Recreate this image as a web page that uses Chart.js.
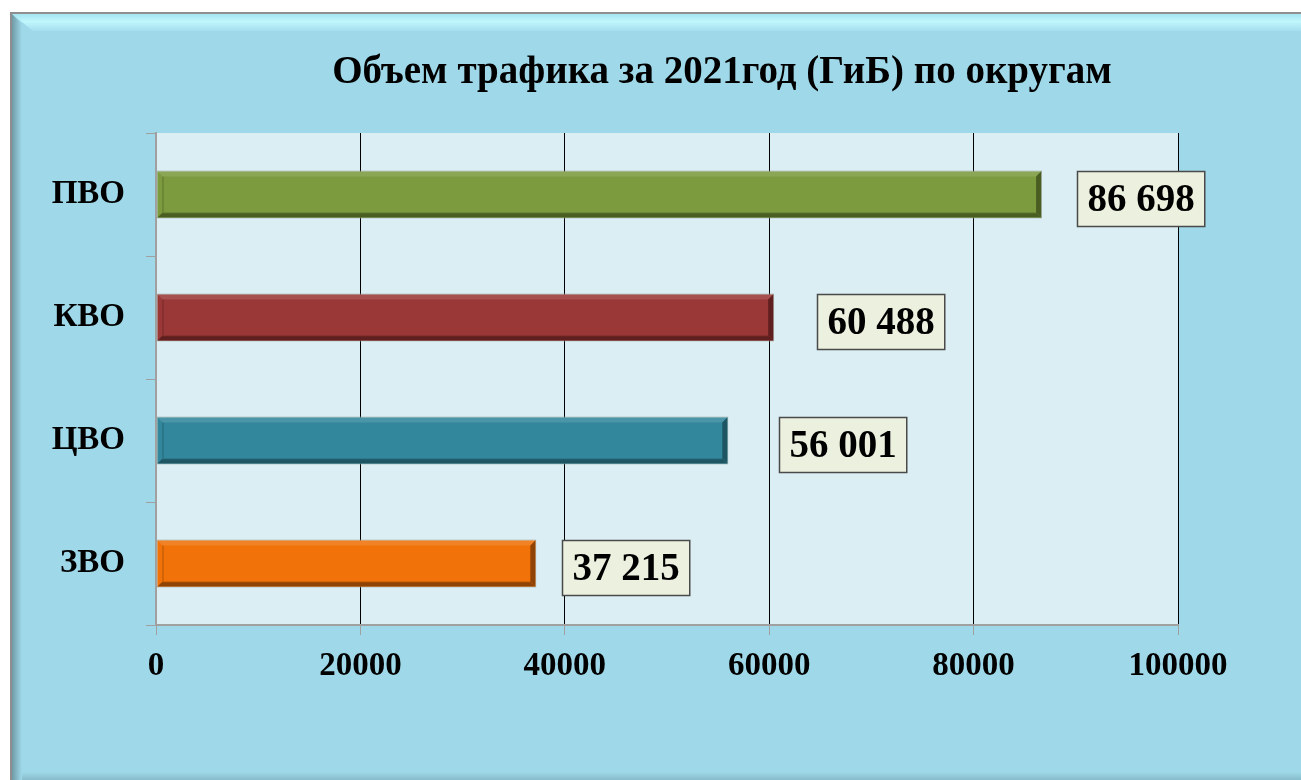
<!DOCTYPE html>
<html>
<head>
<meta charset="utf-8">
<script src="https://cdn.jsdelivr.net/npm/chart.js@4"></script>
<style>
  html, body { margin: 0; padding: 0; background: #ffffff; }
  #wrap { width: 1301px; height: 780px; }
</style>
</head>
<body>
<div id="wrap"><canvas id="myChart" width="1301" height="780"></canvas></div>
<script>
const categories = ['ПВО', 'КВО', 'ЦВО', 'ЗВО'];
const traffic = [86698, 60488, 56001, 37215];
const xTicks = [0, 20000, 40000, 60000, 80000, 100000];
const titleText = 'Объем трафика за 2021год (ГиБ) по округам';

const barColors = ['#7c9a3e', '#9a3837', '#32879c', '#f07208'];
const barDark = ['#4a5e22', '#5e1f1e', '#1d5563', '#8f4305'];
const labelOffsets = [35, 43, 51, 26]; // label boxes were placed by hand in the original

const serif = '"Liberation Serif", "Times New Roman", serif';

function fmt(v) {
  return String(v).replace(/\B(?=(\d{3})+(?!\d))/g, ' ');
}

// frame + plot background
const backdrop = {
  id: 'backdrop',
  beforeDraw(chart) {
    const { ctx, chartArea } = chart;
    ctx.save();
    ctx.fillStyle = '#ffffff';
    ctx.fillRect(0, 0, chart.width, chart.height);
    // outer panel
    ctx.fillStyle = '#8e8e8e';
    ctx.fillRect(10, 12, 1291, 768);
    ctx.fillStyle = '#9fd9e9';
    ctx.fillRect(12, 14, 1289, 766);
    // top bevel
    let g = ctx.createLinearGradient(0, 15, 0, 31);
    g.addColorStop(0, '#a8e6f2');
    g.addColorStop(0.4, '#c0f6fc');
    g.addColorStop(1, '#a6def0');
    ctx.fillStyle = g;
    ctx.beginPath();
    ctx.moveTo(12, 14); ctx.lineTo(1301, 14); ctx.lineTo(1301, 31);
    ctx.lineTo(33, 31); ctx.closePath(); ctx.fill();
    // left shade
    g = ctx.createLinearGradient(12, 0, 22, 0);
    g.addColorStop(0, '#6f9aa6');
    g.addColorStop(1, '#9fd9e9');
    ctx.fillStyle = g;
    ctx.beginPath();
    ctx.moveTo(12, 14); ctx.lineTo(22, 24); ctx.lineTo(22, 780); ctx.lineTo(12, 780); ctx.closePath(); ctx.fill();
    // bottom shade
    g = ctx.createLinearGradient(0, 772, 0, 780);
    g.addColorStop(0, '#9fd9e9');
    g.addColorStop(1, '#86bccb');
    ctx.fillStyle = g;
    ctx.fillRect(22, 772, 1279, 8);
    // plot area
    ctx.fillStyle = '#daeef3';
    ctx.fillRect(chartArea.left, chartArea.top, chartArea.right - chartArea.left, chartArea.bottom - chartArea.top);
    ctx.restore();
  }
};

const titlePlugin = {
  id: 'titleText',
  afterDraw(chart) {
    const { ctx } = chart;
    ctx.save();
    ctx.font = 'bold 39px ' + serif;
    ctx.fillStyle = '#000000';
    ctx.textAlign = 'center';
    ctx.textBaseline = 'middle';
    ctx.fillText(titleText, 722, 73);
    ctx.restore();
  }
};

// bevel on bars + value boxes
const barDecor = {
  id: 'barDecor',
  afterDatasetsDraw(chart) {
    const { ctx } = chart;
    const meta = chart.getDatasetMeta(0);
    ctx.save();
    meta.data.forEach((bar, i) => {
      const p = bar.getProps(['x', 'y', 'base', 'height'], true);
      const l = Math.min(p.base, p.x), r = Math.max(p.base, p.x);
      const t = p.y - p.height / 2, b = p.y + p.height / 2;
      const ins = 6;
      // top highlight
      ctx.fillStyle = 'rgba(255,255,255,0.12)';
      ctx.beginPath();
      ctx.moveTo(l + 1, t + 1); ctx.lineTo(r - 1, t + 1); ctx.lineTo(r - ins, t + ins);
      ctx.lineTo(l + ins, t + ins); ctx.closePath(); ctx.fill();
      // bottom shade
      let g = ctx.createLinearGradient(0, b - ins - 2, 0, b);
      g.addColorStop(0, barColors[i]);
      g.addColorStop(0.45, barDark[i]);
      g.addColorStop(1, barDark[i]);
      ctx.fillStyle = g;
      ctx.beginPath();
      ctx.moveTo(l + 1, b - 1); ctx.lineTo(l + ins, b - ins); ctx.lineTo(r - ins, b - ins);
      ctx.lineTo(r - 1, b - 1); ctx.closePath(); ctx.fill();
      // right shade
      ctx.fillStyle = barDark[i];
      ctx.beginPath();
      ctx.moveTo(r - 1, t + 1); ctx.lineTo(r - ins, t + ins); ctx.lineTo(r - ins, b - ins);
      ctx.lineTo(r - 1, b - 1); ctx.closePath(); ctx.fill();
      // inner left edge
      ctx.strokeStyle = barDark[i];
      ctx.globalAlpha = 0.6;
      ctx.lineWidth = 1;
      ctx.beginPath();
      ctx.moveTo(l + ins + 0.5, b - ins); ctx.lineTo(l + ins + 0.5, t + ins);
      ctx.stroke();
      ctx.globalAlpha = 1;

      // value label
      const txt = fmt(traffic[i]);
      ctx.font = 'bold 39px ' + serif;
      const w = ctx.measureText(txt).width + 20;
      const h = 55;
      const bx = Math.round(r + labelOffsets[i]) + 0.5;
      const by = Math.round(p.y + 4 - h / 2) + 0.5;
      ctx.fillStyle = '#ebf1de';
      ctx.fillRect(bx, by, w, h);
      ctx.strokeStyle = '#4a4a4a';
      ctx.lineWidth = 1.5;
      ctx.strokeRect(bx, by, w, h);
      ctx.fillStyle = '#000000';
      ctx.textAlign = 'center';
      ctx.textBaseline = 'middle';
      ctx.fillText(txt, bx + w / 2, by + h / 2 + 2);
    });
    ctx.restore();
  }
};

const ctx = document.getElementById('myChart');
const chart = new Chart(ctx, {
  type: 'bar',
  data: {
    labels: categories,
    datasets: [{
      data: traffic,
      backgroundColor: barColors,
      borderColor: '#a0a8a0',
      borderWidth: 1,
      borderSkipped: false,
      barPercentage: 0.39,
      categoryPercentage: 1
    }]
  },
  options: {
    indexAxis: 'y',
    responsive: false,
    animation: false,
    layout: { padding: { top: 133, right: 123, left: 0, bottom: 0 } },
    plugins: {
      legend: { display: false },
      title: { display: false },
      tooltip: { enabled: false }
    },
    scales: {
      x: {
        min: 0,
        max: 100000,
        afterBuildTicks(scale) { scale.ticks = xTicks.map(v => ({ value: v })); },
        afterFit(scale) { scale.height = 155; },
        border: { color: '#a0a0a0', width: 2 },
        grid: {
          color: c => c.index === 0 ? 'rgba(0,0,0,0)' : '#000000',
          tickColor: '#a0a0a0',
          tickLength: 10,
          lineWidth: 1
        },
        ticks: {
          color: '#000000',
          padding: 12,
          maxRotation: 0,
          callback: v => String(v),
          font: { family: serif, size: 33, weight: 'bold' }
        }
      },
      y: {
        offset: true,
        afterFit(scale) { scale.width = 156; },
        border: { color: '#a0a0a0', width: 2 },
        grid: {
          offset: true,
          drawOnChartArea: false,
          tickColor: '#a0a0a0',
          tickLength: 10
        },
        ticks: {
          color: '#000000',
          padding: 21,
          font: { family: serif, size: 33, weight: 'bold' }
        }
      }
    }
  },
  plugins: [backdrop, barDecor, titlePlugin]
});
</script>
</body>
</html>
